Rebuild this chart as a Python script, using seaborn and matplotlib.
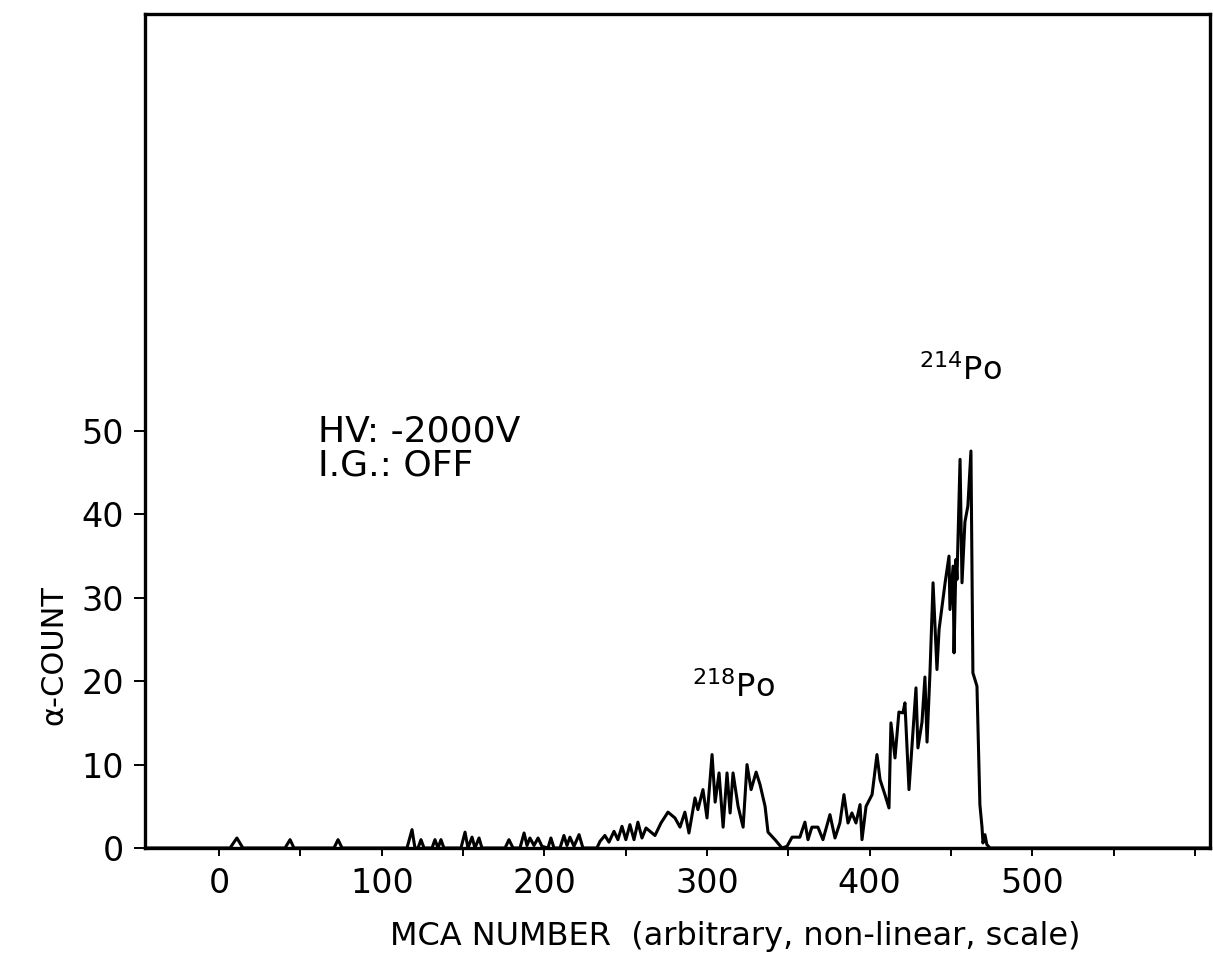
import matplotlib
matplotlib.use("Agg")
import matplotlib.pyplot as plt
import matplotlib.ticker as mticker
import seaborn as sns
import numpy as np
import pandas as pd

# ---- data ----
channel = [
    -46, 6.7, 10.9, 14.6, 40.5, 43.6, 46.0, 70.6, 73.1, 75.6,
    115.5, 118.6, 120.4, 122.3, 124.1, 126.0, 130.9, 132.7, 134.6, 136.4, 138.2,
    148.7, 151.2, 153.0, 155.5, 157.3, 159.8, 161.6, 175.8, 178.2, 180.7,
    185.0, 187.5, 189.3, 191.1, 193.6, 196.1, 198.5, 202.2, 204.0, 205.9,
    209.6, 212.0, 213.9, 215.7, 218.2, 221.3, 223.7, 232.3, 234.2, 237.2,
    239.7, 242.8, 245.2, 247.7, 250.1, 252.6, 255.1, 257.5, 260.0, 262.5,
    264.9, 268.0, 271.7, 276.0, 280.3, 283.4, 286.4, 288.9, 292.6, 294.4,
    297.5, 300.0, 303.1, 305.0, 307.4, 309.9, 312.3, 314.2, 316.0, 319.1,
    322.2, 324.6, 327.1, 330.2, 332.6, 335.7, 337.5, 341.8, 346.1, 349.2,
    352.3, 357.1, 360.2, 362.1, 364.5, 368.2, 371.3, 375.6, 378.7, 381.7,
    384.2, 386.7, 389.1, 391.6, 394.1, 395.3, 397.8, 401.5, 404.5, 406.4,
    409.4, 411.9, 413.1, 415.6, 418.0, 420.5, 421.7, 424.2, 428.5, 429.7,
    432.2, 434.0, 435.3, 437.1, 439.0, 441.4, 442.7, 446.4, 448.8, 449.4,
    451.3, 451.9, 453.1, 453.7, 455.6, 456.8, 458.6, 460.4, 462.3, 463.5,
    466.0, 467.8, 469.1, 469.7, 470.9, 472.1, 474.0, 612,
]
counts = [
    0, 0, 1.2, 0, 0, 1.0, 0, 0, 1.0, 0,
    0, 2.2, 0, 0, 1.0, 0, 0, 1.0, 0, 1.0, 0,
    0, 1.9, 0, 1.3, 0, 1.2, 0, 0, 1.0, 0,
    0, 1.8, 0.3, 1.2, 0.3, 1.2, 0.2, 0, 1.2, 0,
    0, 1.5, 0.3, 1.3, 0.2, 1.6, 0, 0, 0.8, 1.5,
    0.7, 2.0, 1.0, 2.6, 1.0, 2.8, 1.0, 3.1, 1.2, 2.4,
    2.0, 1.5, 3.0, 4.3, 3.6, 2.5, 4.3, 1.8, 6.0, 4.6,
    7.0, 3.6, 11.2, 5.5, 9.0, 2.5, 9.0, 4.2, 9.0, 5.0,
    2.5, 10.0, 7.0, 9.1, 7.6, 5.0, 1.9, 1.0, 0, 0.2,
    1.3, 1.3, 3.1, 1.0, 2.5, 2.5, 1.0, 4.0, 1.2, 3.0,
    6.4, 3.0, 4.2, 3.0, 5.2, 1.0, 5.0, 6.4, 11.2, 8.2,
    6.4, 4.8, 15.0, 10.8, 16.3, 16.2, 17.4, 7.0, 19.2, 12.0,
    15.1, 20.5, 12.7, 21.0, 31.8, 21.4, 26.2, 31.8, 35.0, 28.6,
    33.8, 23.4, 34.6, 32.2, 46.6, 31.8, 39.1, 41.0, 47.6, 21.0,
    19.4, 5.2, 2.5, 0.6, 1.6, 0.4, 0, 0,
]
x_ticks = [0, 100, 200, 300, 400, 500]
y_ticks = [0, 10, 20, 30, 40, 50]
peak_labels = ["$^{218}$Po", "$^{214}$Po"]
peak_pos = [(316, 19.2), (456, 57.2)]
info_text = "HV: -2000V\nI.G.: OFF"

df = pd.DataFrame({"channel": channel, "counts": counts})

sns.set_style("white")
plt.rcParams["font.family"] = ["DejaVu Sans"]
plt.rcParams["mathtext.fontset"] = "dejavusans"
plt.rcParams["text.color"] = "black"
plt.rcParams["axes.labelcolor"] = "black"
plt.rcParams["xtick.color"] = "black"
plt.rcParams["ytick.color"] = "black"

fig = plt.figure(figsize=(12.13, 9.77), dpi=100)
ax = fig.add_axes([145 / 1213, 1 - 848 / 977, (1210 - 145) / 1213, (848 - 14) / 977])

sns.lineplot(data=df, x="channel", y="counts", ax=ax, color="black",
             linewidth=2.2, estimator=None, sort=False)

ax.set_xlim(-45.6, 609.3)
ax.set_ylim(0, 100)

ax.xaxis.set_major_locator(mticker.FixedLocator(x_ticks))
ax.xaxis.set_minor_locator(mticker.MultipleLocator(50))
ax.yaxis.set_major_locator(mticker.FixedLocator(y_ticks))
ax.set_xticklabels([str(t) for t in x_ticks])
ax.set_yticklabels([str(t) for t in y_ticks])

ax.tick_params(axis="x", which="both", direction="out", length=6, width=1.4,
               color="black", labelcolor="black", labelsize=24, pad=8, bottom=True)
ax.tick_params(axis="y", which="major", direction="out", length=8, width=1.4,
               color="black", labelcolor="black", labelsize=24, pad=7, left=True)

for side in ["left", "right", "top", "bottom"]:
    ax.spines[side].set_visible(True)
    ax.spines[side].set_color("black")
    ax.spines[side].set_linewidth(2.4)

ax.set_xlabel("MCA NUMBER  (arbitrary, non-linear, scale)", fontsize=23, color="black")
ax.xaxis.set_label_coords(0.554, -0.088)
ax.set_ylabel("α-COUNT", fontsize=22, color="black")
ax.yaxis.set_label_coords(-0.072, 0.231)

ax.text(61, 47.9, info_text, fontsize=26, ha="left", va="center",
        linespacing=1.0, color="black")
for lab, (px, py) in zip(peak_labels, peak_pos):
    ax.text(px, py, lab, fontsize=23, ha="center", va="center", color="black")

fig.savefig("out.png", dpi=100, facecolor="white")
